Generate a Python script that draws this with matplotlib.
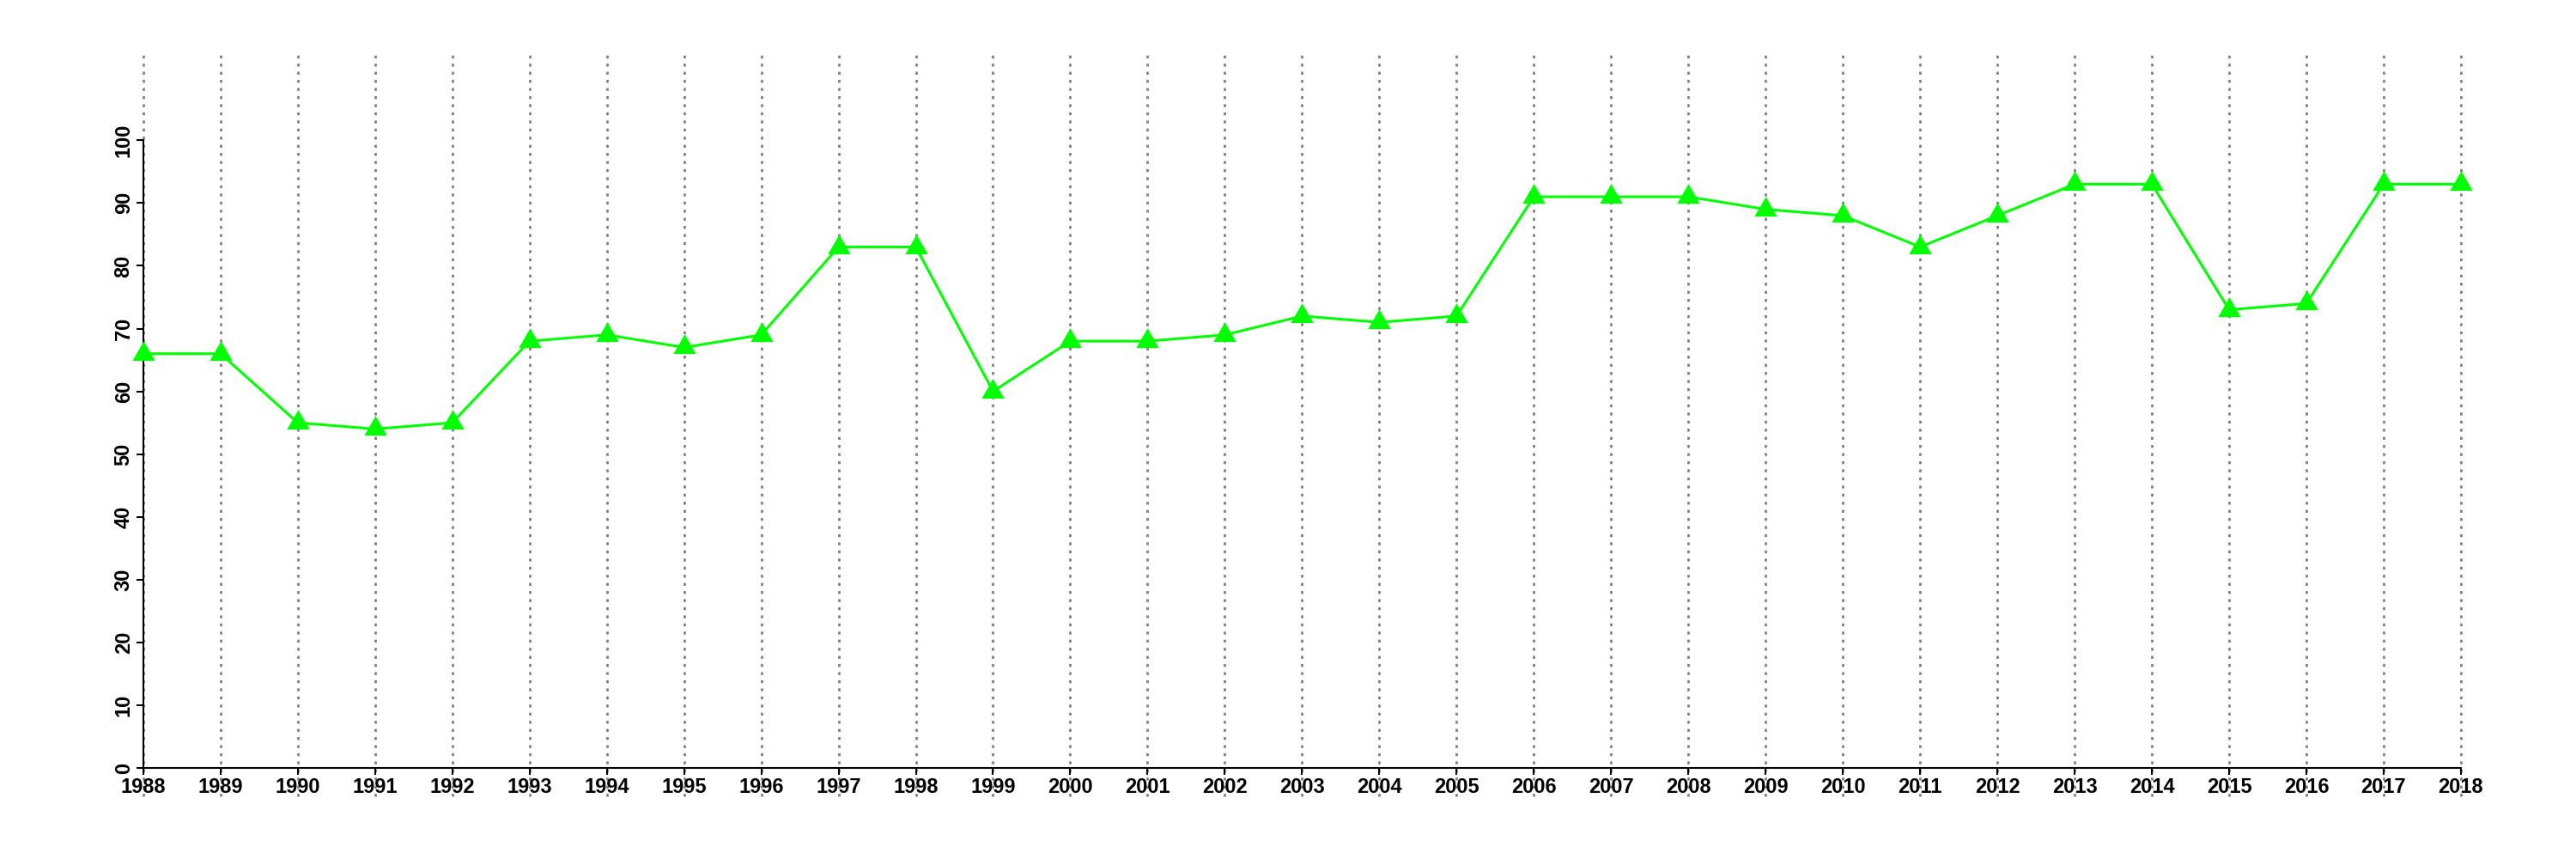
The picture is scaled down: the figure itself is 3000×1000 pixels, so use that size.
import matplotlib
matplotlib.use("Agg")
import matplotlib.pyplot as plt
import numpy as np

# data
years = list(range(1988, 2019))
values = [66, 66, 55, 54, 55, 68, 69, 67, 69, 83, 83, 60, 68, 68, 69, 72,
          71, 72, 91, 91, 91, 89, 88, 83, 88, 93, 93, 73, 74, 93, 93]
y_ticks = list(range(0, 101, 10))

plt.rcParams["font.family"] = ["Liberation Sans", "DejaVu Sans"]

fig = plt.figure(figsize=(30, 10), dpi=100)
ax = fig.add_axes([0.0556, 0.106, 0.8997, 0.7307])

# dotted vertical guides, running past the plot box like in the original
ax.vlines(years, -4.5, 114, colors="#808080", linestyles=(0, (1.2, 2.2)),
          linewidth=2, clip_on=False, zorder=1)

# equilateral triangle marker
tri = [(-1, -0.577), (1, -0.577), (0, 1.155), (-1, -0.577)]
ax.plot(years, values, color="#00ff00", linewidth=2.2, marker=tri,
        markersize=22, markeredgewidth=0, clip_on=False, zorder=3)

ax.set_xlim(1988, 2018)
ax.set_ylim(0, 100)
ax.set_xticks(years)
ax.set_yticks(y_ticks)
ax.tick_params(axis="both", length=6, width=1.5, direction="out",
               labelsize=17, pad=2)
for lbl in ax.get_xticklabels():
    lbl.set_fontweight("bold")
for lbl in ax.get_yticklabels():
    lbl.set_fontweight("bold")
    lbl.set_rotation(90)
    lbl.set_va("center")

for s in ["top", "right"]:
    ax.spines[s].set_visible(False)
for s in ["left", "bottom"]:
    ax.spines[s].set_linewidth(1.5)

fig.savefig("out.png", dpi=100)
